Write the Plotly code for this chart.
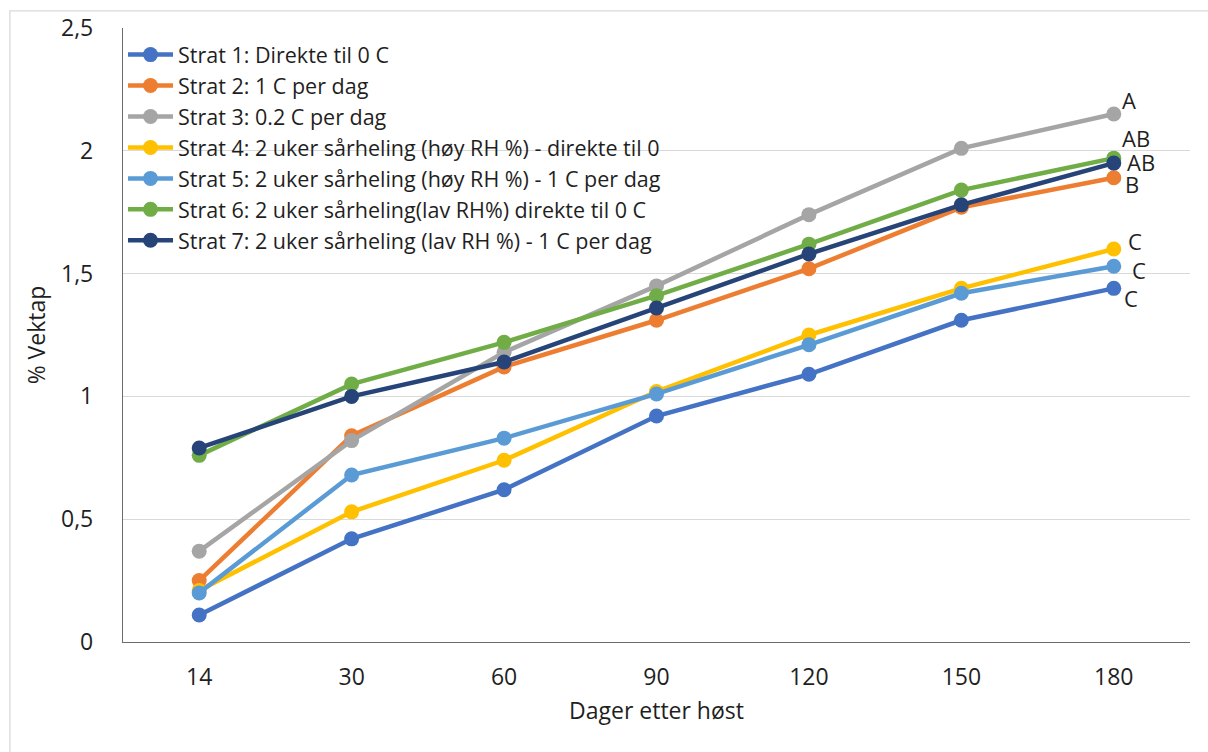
import plotly.graph_objects as go

days = ["14", "30", "60", "90", "120", "150", "180"]

series_names = [
    "Strat 1: Direkte til 0 C",
    "Strat 2: 1 C per dag",
    "Strat 3: 0.2 C per dag",
    "Strat 4: 2 uker sårheling (høy RH %) - direkte til 0",
    "Strat 5: 2 uker sårheling (høy RH %) - 1 C per dag",
    "Strat 6: 2 uker sårheling(lav RH%) direkte til 0 C",
    "Strat 7: 2 uker sårheling (lav RH %) - 1 C per dag",
]

strat1 = [0.11, 0.42, 0.62, 0.92, 1.09, 1.31, 1.44]
strat2 = [0.25, 0.84, 1.12, 1.31, 1.52, 1.77, 1.89]
strat3 = [0.37, 0.82, 1.18, 1.45, 1.74, 2.01, 2.15]
strat4 = [0.21, 0.53, 0.74, 1.02, 1.25, 1.44, 1.60]
strat5 = [0.20, 0.68, 0.83, 1.01, 1.21, 1.42, 1.53]
strat6 = [0.76, 1.05, 1.22, 1.41, 1.62, 1.84, 1.97]
strat7 = [0.79, 1.00, 1.14, 1.36, 1.58, 1.78, 1.95]

group_letters = ["C", "B", "A", "C", "C", "AB", "AB"]

y_tickvals = [0, 0.5, 1, 1.5, 2, 2.5]
y_ticktext = ["0", "0,5", "1", "1,5", "2", "2,5"]

colors = ["#4472C4", "#ED7D31", "#A5A5A5", "#FFC000", "#5B9BD5", "#70AD47", "#264478"]
# label offsets (pixels) for the letter annotations at the last point
label_shift = [(17, -10), (18, -6), (15, 14), (21, 8), (25, -4), (22, 20), (27, 1)]

FONT = "Open Sans, sans-serif"
TXT = "#1f1f1f"
FS = 23
LEG_FS = 21.5
ANN_FS = 22

all_series = [strat1, strat2, strat3, strat4, strat5, strat6, strat7]

fig = go.Figure()
for name, vals, col in zip(series_names, all_series, colors):
    fig.add_trace(go.Scatter(
        x=days, y=vals, name=name, mode="lines+markers",
        line=dict(color=col, width=4.5),
        marker=dict(color=col, size=15),
    ))

last_idx = len(days) - 1
for vals, letter, (dx, dy) in zip(all_series, group_letters, label_shift):
    fig.add_annotation(
        x=last_idx, y=vals[-1], text=letter, showarrow=False,
        xshift=dx, yshift=dy, font=dict(family=FONT, size=ANN_FS, color=TXT),
    )

fig.update_layout(
    width=1208, height=752,
    margin=dict(l=123, r=18, t=28, b=110),
    plot_bgcolor="white", paper_bgcolor="white",
    font=dict(family=FONT, size=FS, color=TXT),
    showlegend=True,
    legend=dict(
        x=0.0, y=0.99, xanchor="left", yanchor="top",
        bgcolor="rgba(0,0,0,0)", font=dict(family=FONT, size=LEG_FS, color=TXT),
        tracegroupgap=0, itemwidth=45,
    ),
    xaxis=dict(
        type="category", range=[-0.5, 6.5],
        showgrid=False, showline=True, linecolor="#6b6b6b", linewidth=1.3,
        ticks="", ticklabelstandoff=14,
        tickfont=dict(family=FONT, size=FS, color=TXT),
        title=dict(text="Dager etter høst", standoff=12,
                   font=dict(family=FONT, size=FS, color=TXT)),
        zeroline=False,
    ),
    yaxis=dict(
        range=[0, 2.5], tickvals=y_tickvals, ticktext=y_ticktext,
        showgrid=True, gridcolor="#D9D9D9", gridwidth=1.3,
        showline=True, linecolor="#6b6b6b", linewidth=1.3,
        ticks="", ticklabelstandoff=24,
        tickfont=dict(family=FONT, size=FS, color=TXT),
        title=dict(text="% Vektap", standoff=8,
                   font=dict(family=FONT, size=FS, color=TXT)),
        zeroline=False,
    ),
    shapes=[dict(
        type="rect", xref="paper", yref="paper",
        x0=-0.106, x1=1.2, y0=-0.4, y1=1.028,
        line=dict(color="#D9D9D9", width=1.3), fillcolor="rgba(0,0,0,0)",
        layer="below",
    )],
)

fig.write_html("out.html")
